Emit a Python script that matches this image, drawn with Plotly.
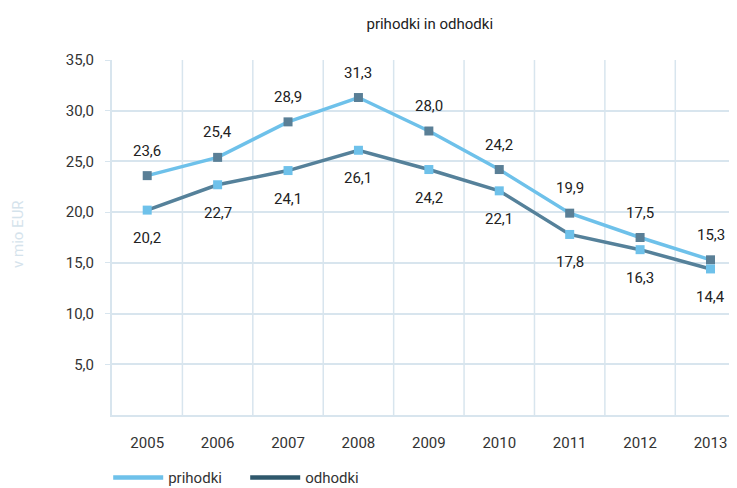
import plotly.graph_objects as go

years = ["2005", "2006", "2007", "2008", "2009", "2010", "2011", "2012", "2013"]
prihodki = [23.6, 25.4, 28.9, 31.3, 28.0, 24.2, 19.9, 17.5, 15.3]
odhodki = [20.2, 22.7, 24.1, 26.1, 24.2, 22.1, 17.8, 16.3, 14.4]
y_ticks = [5, 10, 15, 20, 25, 30, 35]
y_tick_labels = ["5,0", "10,0", "15,0", "20,0", "25,0", "30,0", "35,0"]

LIGHT = "#6ec1ea"
DARK_LINE = "#55819a"
DARK_LEG = "#2f586c"
GRID = "#d8e5ee"
FONT = "Roboto"

def fmt(v):
    return f"{v:.1f}".replace(".", ",")

fig = go.Figure()
fig.add_trace(go.Scatter(x=years, y=prihodki, mode="lines+markers", showlegend=False,
                         line=dict(color=LIGHT, width=3.5),
                         marker=dict(symbol="square", size=9, color="#5a7f96")))
fig.add_trace(go.Scatter(x=years, y=odhodki, mode="lines+markers", showlegend=False,
                         line=dict(color=DARK_LINE, width=3.5),
                         marker=dict(symbol="square", size=9, color=LIGHT)))
fig.add_trace(go.Scatter(x=[years[0]], y=[None], mode="lines", name="prihodki",
                         line=dict(color=LIGHT, width=4.5)))
fig.add_trace(go.Scatter(x=[years[0]], y=[None], mode="lines", name="odhodki",
                         line=dict(color=DARK_LEG, width=4.5)))

for i, v in enumerate(prihodki):
    fig.add_annotation(x=i, y=v, xref="x", yref="y", text=fmt(v), showarrow=False, yshift=25,
                       font=dict(size=15, color="#222", family=FONT))
for i, v in enumerate(odhodki):
    fig.add_annotation(x=i, y=v, xref="x", yref="y", text=fmt(v), showarrow=False, yshift=-28,
                       font=dict(size=15, color="#222", family=FONT))

fig.add_annotation(text="v mio EUR", xref="paper", yref="paper", x=-0.1485, y=0.51,
                   showarrow=False, textangle=-90, xanchor="center", yanchor="middle",
                   font=dict(size=15, color="#d5e3ec", family=FONT))

fig.update_layout(
    width=737, height=488,
    margin=dict(l=104, r=0, t=52, b=81, autoexpand=False),
    paper_bgcolor="white", plot_bgcolor="white",
    font=dict(family=FONT, size=15, color="#333"),
    title=dict(text="prihodki in odhodki", x=0.502, xref="paper", xanchor="center",
               y=1 - 16 / 488, yanchor="middle", yref="container",
               font=dict(size=15, color="#222", family=FONT)),
    legend=dict(orientation="h", x=-0.006, xref="paper", y=-0.177, yanchor="middle",
                font=dict(size=15, color="#333"), itemwidth=50, entrywidth=72,
                bgcolor="rgba(0,0,0,0)"),
    xaxis=dict(type="category", range=[-0.5, 8.49], showgrid=False, automargin=False,
               showline=True, linecolor=GRID, linewidth=2,
               ticks="", tickfont=dict(size=15, color="#333"), ticklabelstandoff=13),
    yaxis=dict(range=[0, 35], tickvals=y_ticks, ticktext=y_tick_labels, automargin=False,
               showgrid=True, gridcolor=GRID, gridwidth=1.5,
               showline=True, linecolor=GRID, linewidth=2,
               ticks="outside", ticklen=5, tickcolor=GRID, ticklabelstandoff=8,
               tickfont=dict(size=15, color="#333"), zeroline=False),
)

for i in range(len(years)):
    fig.add_shape(type="line", xref="x", yref="y", x0=i + 0.5, x1=i + 0.5, y0=0, y1=35,
                  line=dict(color=GRID, width=1.5), layer="below")

fig.write_html("out.html")
